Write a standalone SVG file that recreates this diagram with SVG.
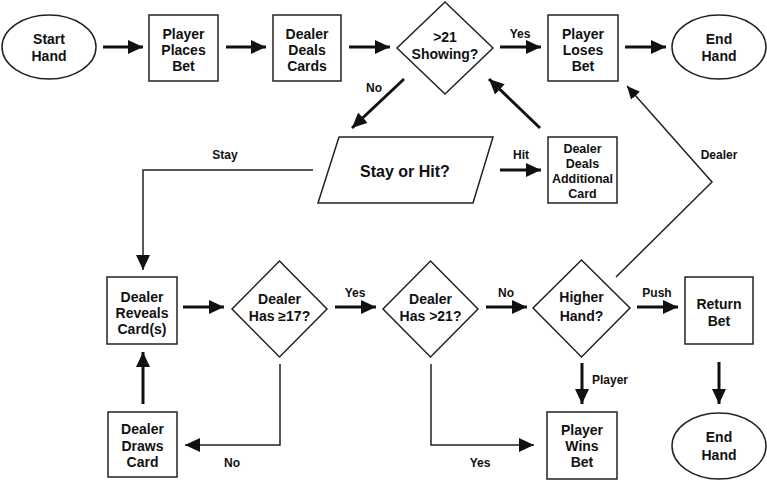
<svg xmlns="http://www.w3.org/2000/svg" width="767" height="480" viewBox="0 0 767 480">
<defs>
<marker id="ah" markerUnits="userSpaceOnUse" markerWidth="16" markerHeight="14" refX="15" refY="7" orient="auto"><path d="M0,0 L15,7 L0,14 z" fill="#111"/></marker>
<marker id="ahs" markerUnits="userSpaceOnUse" markerWidth="14" markerHeight="12" refX="13" refY="6" orient="auto"><path d="M0,0 L13,6 L0,12 z" fill="#111"/></marker>
<style>
.n{fill:#fff;stroke:#222;stroke-width:1.5}
.t{font-family:"Liberation Sans",Arial,sans-serif;font-weight:bold;font-size:14px;fill:#111;text-anchor:middle}
.ts{font-size:12.5px}
.l{font-family:"Liberation Sans",Arial,sans-serif;font-weight:bold;font-size:12px;fill:#111;text-anchor:middle}
.k{fill:none;stroke:#111;stroke-width:3}
.th{fill:none;stroke:#222;stroke-width:1.5}
</style>
</defs>
<rect width="767" height="480" fill="#fff"/>
<g id="connectors">
<line class="k" x1="103" y1="47" x2="143" y2="47" marker-end="url(#ah)"/>
<line class="k" x1="226" y1="47" x2="266" y2="47" marker-end="url(#ah)"/>
<line class="k" x1="349" y1="47" x2="390" y2="47" marker-end="url(#ah)"/>
<line class="k" x1="500" y1="47" x2="541" y2="47" marker-end="url(#ah)"/>
<line class="k" x1="625" y1="47" x2="666" y2="47" marker-end="url(#ah)"/>
<line class="k" x1="404" y1="79" x2="352" y2="128" marker-end="url(#ah)"/>
<line class="k" x1="540" y1="128" x2="489" y2="79" marker-end="url(#ah)"/>
<line class="k" x1="500" y1="170" x2="541" y2="170" marker-end="url(#ah)"/>
<polyline class="th" points="313,170 143,170 143,270" marker-end="url(#ah)"/>
<polyline class="th" points="616,277 712,182 627,86" marker-end="url(#ahs)"/>
<line class="k" x1="183" y1="307" x2="224" y2="307" marker-end="url(#ah)"/>
<line class="k" x1="335" y1="307" x2="376" y2="307" marker-end="url(#ah)"/>
<line class="k" x1="486" y1="307" x2="527" y2="307" marker-end="url(#ah)"/>
<line class="k" x1="637" y1="307" x2="678" y2="307" marker-end="url(#ah)"/>
<line class="k" x1="143" y1="404" x2="143" y2="352" marker-end="url(#ah)"/>
<line class="k" x1="719" y1="362" x2="719" y2="404" marker-end="url(#ah)"/>
<line class="k" x1="582" y1="363" x2="582" y2="404" marker-end="url(#ah)"/>
<polyline class="th" points="280,364 280,445 185,445" marker-end="url(#ah)"/>
<polyline class="th" points="431,364 431,445 534,445" marker-end="url(#ah)"/>
<text class="l" x="520" y="38">Yes</text>
<text class="l" x="374" y="92">No</text>
<text class="l" x="225" y="159">Stay</text>
<text class="l" x="521" y="159">Hit</text>
<text class="l" x="719" y="159">Dealer</text>
<text class="l" x="355" y="297">Yes</text>
<text class="l" x="506" y="297">No</text>
<text class="l" x="657" y="297">Push</text>
<text class="l" x="610" y="384">Player</text>
<text class="l" x="232" y="467">No</text>
<text class="l" x="480" y="467">Yes</text>
</g>
<g id="start"><ellipse class="n" cx="49" cy="47" rx="47" ry="32"/><text class="t" x="49" y="44">Start</text><text class="t" x="49" y="61">Hand</text></g>
<g id="places"><rect class="n" x="149" y="15" width="69" height="66"/><text class="t" x="183.5" y="39">Player</text><text class="t" x="183.5" y="55">Places</text><text class="t" x="183.5" y="71">Bet</text></g>
<g id="deals"><rect class="n" x="273" y="15" width="68" height="66"/><text class="t" x="307" y="39">Dealer</text><text class="t" x="307" y="55">Deals</text><text class="t" x="307" y="71">Cards</text></g>
<g id="showing"><polygon class="n" points="445,2 493,48 445,94 397,48"/><text class="t" x="445" y="42">&gt;21</text><text class="t" x="445" y="59">Showing?</text></g>
<g id="loses"><rect class="n" x="548" y="15" width="70" height="66"/><text class="t" x="583" y="39">Player</text><text class="t" x="583" y="55">Loses</text><text class="t" x="583" y="71">Bet</text></g>
<g id="end1"><ellipse class="n" cx="719" cy="47" rx="47" ry="32"/><text class="t" x="719" y="44">End</text><text class="t" x="719" y="61">Hand</text></g>
<g id="stayhit"><polygon class="n" points="339,137 493,137 473,203 318,203"/><text class="t" x="405" y="177" style="font-size:16px">Stay or Hit?</text></g>
<g id="additional"><rect class="n" x="548" y="137" width="69" height="66"/><text class="t ts" x="582.5" y="153">Dealer</text><text class="t ts" x="582.5" y="168">Deals</text><text class="t ts" x="582.5" y="183">Additional</text><text class="t ts" x="582.5" y="198">Card</text></g>
<g id="reveals"><rect class="n" x="107" y="277" width="70" height="67"/><text class="t" x="142" y="302">Dealer</text><text class="t" x="142" y="318">Reveals</text><text class="t" x="142" y="334">Card(s)</text></g>
<g id="has17"><polygon class="n" points="279.5,261 327,309 279.5,357 232,309"/><text class="t" x="279.5" y="304">Dealer</text><text class="t" x="279.5" y="321">Has ≥17?</text></g>
<g id="has21"><polygon class="n" points="430.5,261 478,309 430.5,357 383,309"/><text class="t" x="430.5" y="304">Dealer</text><text class="t" x="430.5" y="321">Has &gt;21?</text></g>
<g id="higher"><polygon class="n" points="581.5,260 630,308 581.5,357 533,308"/><text class="t" x="581.5" y="302">Higher</text><text class="t" x="581.5" y="321">Hand?</text></g>
<g id="return"><rect class="n" x="685" y="277" width="68" height="67"/><text class="t" x="719" y="309">Return</text><text class="t" x="719" y="326">Bet</text></g>
<g id="draws"><rect class="n" x="108" y="412" width="69" height="65"/><text class="t" x="142.5" y="434">Dealer</text><text class="t" x="142.5" y="451">Draws</text><text class="t" x="142.5" y="467">Card</text></g>
<g id="wins"><rect class="n" x="547" y="412" width="70" height="67"/><text class="t" x="582" y="435">Player</text><text class="t" x="582" y="451">Wins</text><text class="t" x="582" y="467">Bet</text></g>
<g id="end2"><ellipse class="n" cx="719" cy="446" rx="47" ry="33"/><text class="t" x="719" y="442">End</text><text class="t" x="719" y="460">Hand</text></g>
</svg>
